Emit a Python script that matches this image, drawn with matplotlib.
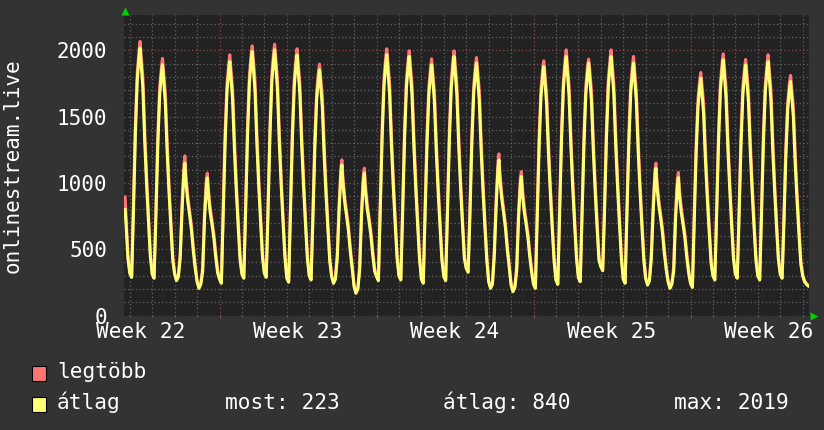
import numpy as np
import matplotlib.pyplot as plt
import matplotlib.transforms as mtransforms
from matplotlib.patches import Rectangle

plt.rcParams['font.family'] = ['DejaVu Sans Mono', 'DejaVu Sans']

W, H = 824, 430

##Time axis: days counted from Monday 00:00 of week 22
hours = [0, 2, 4, 6, 8, 10, 11, 12, 14, 16, 18, 20, 22]
first_day = 3

##partial first day (Wednesday evening) and partial last day (Saturday morning)
start_hours = [19, 20, 22]
start_avg = [800, 690, 430]
start_max = [895, 750, 460]
end_hours = [0, 2, 4, 6]
end_avg = [300, 255, 235, 223]
end_max = [310, 262, 242, 228]

##átlag (average), one row per day, days 3..32
avg_days = [
    [318, 288, 808, 1373, 1777, 1958, 2019, 1918, 1716, 1312, 989, 707, 444],
    [311, 281, 757, 1287, 1665, 1835, 1892, 1797, 1608, 1230, 927, 662, 416],
    [313, 263, 293, 437, 805, 1093, 1150, 1012, 863, 759, 644, 483, 357],
    [255, 205, 235, 332, 727, 986, 1038, 913, 779, 685, 581, 436, 322],
    [273, 243, 767, 1304, 1687, 1859, 1917, 1821, 1629, 1246, 939, 671, 422],
    [311, 281, 797, 1355, 1753, 1932, 1992, 1892, 1693, 1295, 976, 697, 438],
    [318, 288, 802, 1363, 1764, 1945, 2005, 1905, 1704, 1303, 982, 702, 441],
    [281, 251, 786, 1336, 1729, 1906, 1965, 1867, 1670, 1277, 963, 688, 432],
    [298, 268, 742, 1261, 1632, 1798, 1854, 1761, 1576, 1205, 908, 649, 408],
    [293, 243, 273, 432, 795, 1079, 1136, 1000, 852, 750, 636, 477, 352],
    [218, 168, 198, 344, 753, 1022, 1076, 947, 807, 710, 603, 452, 334],
    [293, 263, 787, 1338, 1732, 1909, 1968, 1870, 1673, 1279, 964, 689, 433],
    [298, 268, 782, 1329, 1720, 1896, 1955, 1857, 1662, 1271, 958, 684, 430],
    [273, 243, 757, 1287, 1665, 1835, 1892, 1797, 1608, 1230, 927, 662, 416],
    [293, 263, 782, 1329, 1720, 1896, 1955, 1857, 1662, 1271, 958, 684, 430],
    [356, 326, 762, 1295, 1676, 1848, 1905, 1810, 1619, 1238, 933, 667, 419],
    [255, 205, 235, 446, 821, 1114, 1173, 1032, 880, 774, 657, 493, 364],
    [230, 180, 210, 336, 734, 997, 1049, 923, 787, 692, 587, 441, 325],
    [235, 205, 752, 1278, 1654, 1823, 1879, 1785, 1597, 1221, 921, 658, 413],
    [265, 235, 782, 1329, 1720, 1896, 1955, 1857, 1662, 1271, 958, 684, 430],
    [285, 255, 762, 1295, 1676, 1848, 1905, 1810, 1619, 1238, 933, 667, 419],
    [368, 338, 782, 1329, 1720, 1896, 1955, 1857, 1662, 1271, 958, 684, 430],
    [273, 243, 762, 1295, 1676, 1848, 1905, 1810, 1619, 1238, 933, 667, 419],
    [280, 230, 260, 423, 778, 1056, 1112, 979, 834, 734, 623, 467, 345],
    [255, 205, 235, 333, 728, 988, 1040, 915, 780, 686, 582, 437, 322],
    [242, 212, 716, 1218, 1576, 1737, 1791, 1701, 1522, 1164, 878, 627, 394],
    [298, 268, 772, 1312, 1698, 1872, 1930, 1834, 1641, 1255, 946, 676, 425],
    [311, 281, 757, 1287, 1665, 1835, 1892, 1797, 1608, 1230, 927, 662, 416],
    [298, 268, 767, 1304, 1687, 1859, 1917, 1821, 1629, 1246, 939, 671, 422],
    [311, 281, 706, 1201, 1554, 1713, 1766, 1678, 1501, 1148, 865, 618, 389],
]

##legtöbb (maximum), same days
max_days = [
    [328, 293, 878, 1453, 1837, 2008, 2069, 1978, 1796, 1392, 1049, 757, 474],
    [321, 286, 827, 1367, 1725, 1885, 1940, 1857, 1688, 1310, 987, 712, 446],
    [323, 268, 303, 477, 865, 1143, 1205, 1062, 903, 794, 679, 518, 382],
    [265, 210, 245, 372, 787, 1036, 1074, 963, 819, 720, 616, 471, 347],
    [283, 248, 837, 1384, 1747, 1909, 1968, 1881, 1709, 1326, 999, 721, 452],
    [321, 286, 867, 1435, 1813, 1982, 2035, 1952, 1773, 1375, 1036, 747, 468],
    [328, 293, 872, 1443, 1824, 1995, 2048, 1965, 1784, 1383, 1042, 752, 471],
    [291, 256, 856, 1416, 1789, 1956, 2013, 1927, 1750, 1357, 1023, 738, 462],
    [308, 273, 812, 1341, 1692, 1848, 1897, 1821, 1656, 1285, 968, 699, 438],
    [303, 248, 283, 472, 855, 1129, 1175, 1050, 892, 785, 671, 512, 377],
    [228, 173, 208, 384, 813, 1072, 1112, 997, 847, 745, 638, 487, 359],
    [303, 268, 857, 1418, 1792, 1959, 2013, 1930, 1753, 1359, 1024, 739, 463],
    [308, 273, 852, 1409, 1780, 1946, 1998, 1917, 1742, 1351, 1018, 734, 460],
    [283, 248, 827, 1367, 1725, 1885, 1937, 1857, 1688, 1310, 987, 712, 446],
    [303, 268, 852, 1409, 1780, 1946, 1998, 1917, 1742, 1351, 1018, 734, 460],
    [366, 331, 832, 1375, 1736, 1898, 1947, 1870, 1699, 1318, 993, 717, 449],
    [265, 210, 245, 486, 881, 1164, 1220, 1082, 920, 809, 692, 528, 389],
    [240, 185, 220, 376, 794, 1047, 1086, 973, 827, 727, 622, 476, 350],
    [245, 210, 822, 1358, 1714, 1873, 1922, 1845, 1677, 1301, 981, 708, 443],
    [275, 240, 852, 1409, 1780, 1946, 2005, 1917, 1742, 1351, 1018, 734, 460],
    [295, 260, 832, 1375, 1736, 1898, 1935, 1870, 1699, 1318, 993, 717, 449],
    [378, 343, 852, 1409, 1780, 1946, 2005, 1917, 1742, 1351, 1018, 734, 460],
    [283, 248, 832, 1375, 1736, 1898, 1955, 1870, 1699, 1318, 993, 717, 449],
    [290, 235, 270, 463, 838, 1106, 1150, 1029, 874, 769, 658, 502, 370],
    [265, 210, 245, 373, 788, 1038, 1079, 965, 820, 721, 617, 472, 347],
    [252, 217, 786, 1298, 1636, 1787, 1834, 1761, 1602, 1244, 938, 677, 424],
    [308, 273, 842, 1392, 1758, 1922, 1975, 1894, 1721, 1335, 1006, 726, 455],
    [321, 286, 827, 1367, 1725, 1885, 1932, 1857, 1688, 1310, 987, 712, 446],
    [308, 273, 837, 1384, 1747, 1909, 1968, 1881, 1709, 1326, 999, 721, 452],
    [321, 286, 776, 1281, 1614, 1763, 1812, 1738, 1581, 1228, 925, 668, 419],
]

week_labels = ["Week 22", "Week 23", "Week 24", "Week 25", "Week 26"]
legend_names = ["legtöbb", "átlag"]
stats = ["most: 223", "átlag: 840", "max: 2019"]

##Build time series
last_day = first_day + len(avg_days)
t = [(first_day - 1) + h / 24 for h in start_hours]
avg = list(start_avg)
mx = list(start_max)
for i in range(len(avg_days)):
    t += [first_day + i + h / 24 for h in hours]
    avg += avg_days[i]
    mx += max_days[i]
t += [last_day + h / 24 for h in end_hours]
avg += end_avg
mx += end_max
t = np.array(t)

##Colours
bg = '#333333'
canvas = '#222222'
c_max = '#ff7474'
c_avg = '#ffff77'
grid_c = '#636363'
mgrid_c = '#864c4c'

def fx(px):
    return px / W

def fy(py):
    return 1 - py / H

fig = plt.figure(figsize=(W / 100, H / 100), dpi=100, facecolor=bg)
left, right, top, bottom = 124, 809, 14.7, 315.5
ax = fig.add_axes([fx(left), fy(bottom), (right - left) / W, (bottom - top) / H])
ax.set_facecolor(canvas)

ax.plot(t, mx, color=c_max, lw=2.2, zorder=3)
ax.plot(t, avg, color=c_avg, lw=2.2, zorder=4)

ax.set_xlim(2.742, 33.282)
ax.set_ylim(0, 2270)

##Grid: day / week, 100 / 500
ax.set_xticks([7, 14, 21, 28])
ax.set_xticks([d for d in range(3, 34) if d % 7], minor=True)
ax.set_xticklabels([])
ax.set_yticks(range(0, 2001, 500))
ax.set_yticks([v for v in range(0, 2300, 100) if v % 500], minor=True)
ax.set_yticklabels([str(v) for v in range(0, 2001, 500)])

dots = (0, (1, 2))
ax.grid(which='minor', color=grid_c, ls=dots, lw=0.9)
ax.grid(which='major', color=mgrid_c, ls=dots, lw=0.9)
ax.set_axisbelow(True)

ax.tick_params(axis='x', which='major', length=3, color=mgrid_c, direction='inout')
ax.tick_params(axis='x', which='minor', length=2, color=grid_c, direction='inout')
ax.tick_params(axis='y', which='major', length=0, pad=12, labelsize=15, labelcolor='white')
ax.tick_params(axis='y', which='minor', length=0)
for s in ax.spines.values():
    s.set_visible(False)

##Week labels, centred mid-week
trans = mtransforms.blended_transform_factory(ax.transData, fig.transFigure)
for i, lab in enumerate(week_labels):
    ax.text(3.5 + 7 * i, fy(338), lab, transform=trans, ha='center', va='baseline',
            color='white', fontsize=15.2)

##Axis arrows
up = ax.plot([0.0015], [1.0], marker='^', ms=6, color='#00d000', clip_on=False, mec='none', zorder=5)[0]
rt = ax.plot([1.0], [0.0], marker='>', ms=6, color='#00d000', clip_on=False, mec='none', zorder=5)[0]
up.set_transform(ax.transAxes + mtransforms.ScaledTranslation(0, 4 / 100, fig.dpi_scale_trans))
rt.set_transform(ax.transAxes + mtransforms.ScaledTranslation(5 / 100, 0, fig.dpi_scale_trans))

##Vertical axis title
fig.text(fx(13), fy(166), 'onlinestream.live', rotation=90, ha='center', va='center',
         color='white', fontsize=15)

##Legend
for i, (name, col) in enumerate(zip(legend_names, [c_max, c_avg])):
    ybase = 378 + 31 * i
    fig.patches.append(Rectangle((fx(32), fy(ybase + 3)), 14 / W, 15 / H, transform=fig.transFigure,
                                 facecolor=col, edgecolor='black', lw=0.8))
    fig.text(fx(57), fy(ybase), name, ha='left', va='baseline', color='white', fontsize=15.2)
for xp, s in zip([225, 443, 674], stats):
    fig.text(fx(xp), fy(409), s, ha='left', va='baseline', color='white', fontsize=15.2)

fig.savefig('out.png', dpi=100, facecolor=bg)
